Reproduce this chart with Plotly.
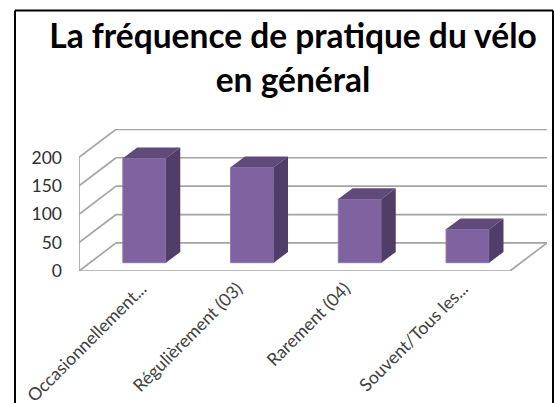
import plotly.graph_objects as go

categories = ["Occasionnellement...", "Régulièrement (03)", "Rarement (04)", "Souvent/Tous les..."]
values = [184, 168, 112, 59]
y_ticks = [0, 50, 100, 150, 200]
title_text = "La fréquence de pratique du vélo<br>en général"

W, H = 555, 403
L, R, T, B = 79, 8, 129.3, 132
FONT = "Lato, Carlito, Calibri, sans-serif"

# 3D projection constants, in axis units
WALL_DX, WALL_DY = 0.344, 49.4      # depth of the chart box
BAR_SHIFT, BAR_BASE = 0.107, 14.6   # where the bars stand on the floor
BAR_W = 0.40
SIDE_DX, SIDE_DY = 0.133, 18.9      # depth of each bar
LABEL_SHIFT = [0.08, -0.03, -0.03, 0.065]  # the truncated labels sit slightly further right
X0, X1 = -0.5, len(categories) - 0.5

FRONT, TOP, SIDE = "#7f63a1", "#5f4a7a", "#503e68"
GRID = "#a4a4a4"

fig = go.Figure()
xs = list(range(len(categories)))

shapes = []
def line(xa, ya, xb, yb):
    shapes.append(dict(type="line", xref="x", yref="y", x0=xa, y0=ya, x1=xb, y1=yb,
                       layer="below", line=dict(color=GRID, width=1.7)))

for t in y_ticks:
    line(X0, t, X0 + WALL_DX, t + WALL_DY)
    line(X0 + WALL_DX, t + WALL_DY, X1 + WALL_DX, t + WALL_DY)
line(X0, 0, X0, y_ticks[-1])
line(X0, 0, X1, 0)
line(X1, 0, X1 + WALL_DX, WALL_DY)

# outer black frame, in paper coordinates
def px(x): return (x - L) / (W - L - R)
def py(y): return 1 - (y - T) / (H - T - B)
for a, b, c, d in [(15, 11, 553, 11), (15, 11, 15, 420), (553, 11, 553, 420)]:
    shapes.append(dict(type="line", xref="paper", yref="paper", x0=px(a), y0=py(b), x1=px(c), y1=py(d),
                       line=dict(color="black", width=2)))

fig.add_trace(go.Bar(x=[x + BAR_SHIFT for x in xs], y=values, base=[BAR_BASE] * len(values), width=BAR_W,
                     marker=dict(color=FRONT, line=dict(color="#8f76ae", width=1)),
                     showlegend=False, hoverinfo="skip"))

for x, v in zip(xs, values):
    xl = x + BAR_SHIFT - BAR_W / 2
    xr = x + BAR_SHIFT + BAR_W / 2
    top = BAR_BASE + v
    fig.add_trace(go.Scatter(x=[xl, xr, xr + SIDE_DX, xl + SIDE_DX, xl],
                             y=[top, top, top + SIDE_DY, top + SIDE_DY, top],
                             mode="lines", fill="toself", fillcolor=TOP, line=dict(width=0),
                             showlegend=False, hoverinfo="skip"))
    fig.add_trace(go.Scatter(x=[xr, xr + SIDE_DX, xr + SIDE_DX, xr, xr],
                             y=[BAR_BASE, BAR_BASE + SIDE_DY, top + SIDE_DY, top, BAR_BASE],
                             mode="lines", fill="toself", fillcolor=SIDE, line=dict(width=0),
                             showlegend=False, hoverinfo="skip"))

fig.update_layout(
    width=W, height=H, autosize=False,
    margin=dict(l=L, r=R, t=T, b=B, pad=0, autoexpand=False),
    paper_bgcolor="white", plot_bgcolor="rgba(0,0,0,0)",
    shapes=shapes,
    title=dict(text=title_text, x=293 / W, xanchor="center", y=1 - 48 / H, yanchor="top",
               font=dict(family=FONT, size=33.5, color="black", weight="bold")),
    xaxis=dict(range=[X0, X1 + WALL_DX], tickmode="array",
               tickvals=[x + s for x, s in zip(xs, LABEL_SHIFT)], ticktext=categories,
               tickangle=-45, tickfont=dict(family=FONT, size=17.6, color="#404040"), automargin=False,
               showgrid=False, zeroline=False, showline=False, ticks="", ticklabelstandoff=3),
    yaxis=dict(range=[0, 250], tickmode="array", tickvals=y_ticks, automargin=False,
               tickfont=dict(family=FONT, size=17.5, color="#303030"),
               showgrid=False, zeroline=False, showline=False, ticks="", ticklabelstandoff=16),
)

fig.write_html("out.html", config=dict(displayModeBar=False),
               post_script="document.body.style.margin='0';document.body.style.overflow='hidden';")
